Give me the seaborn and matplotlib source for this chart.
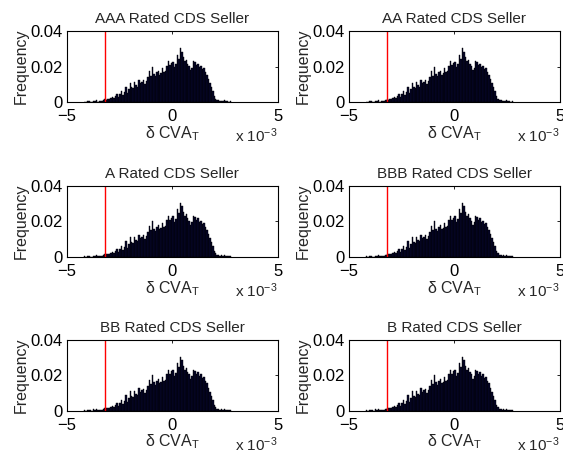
import numpy as np
import pandas as pd
import seaborn as sns
from matplotlib import pyplot as plt

# histogram of delta CVA_T (units of 1e-3), same shape for each rating
bin_start = -4.2
bin_width = 0.07
heights = [
    0.0003, 0, 0.0006, 0.0005, 0.0002, 0, 0.0008, 0.0004, 0.0010, 0.0003,
    0.0005, 0.0007, 0.0004, 0.0012, 0.0015, 0.0014, 0.0018, 0.0016, 0.0024, 0.0030,
    0.0022, 0.0034, 0.0046, 0.0030, 0.0045, 0.0060, 0.0040, 0.0055, 0.0088, 0.0050,
    0.0072, 0.0110, 0.0085, 0.0080, 0.0112, 0.0095, 0.0088, 0.0126, 0.0108, 0.0115,
    0.0122, 0.0100, 0.0118, 0.0140, 0.0173, 0.0150, 0.0200, 0.0160, 0.0148, 0.0168,
    0.0178, 0.0155, 0.0165, 0.0192, 0.0170, 0.0175, 0.0206, 0.0232, 0.0210, 0.0222,
    0.0228, 0.0198, 0.0215, 0.0268, 0.0245, 0.0305, 0.0285, 0.0255, 0.0230, 0.0240,
    0.0217, 0.0205, 0.0180, 0.0195, 0.0232, 0.0225, 0.0210, 0.0217, 0.0198, 0.0205,
    0.0187, 0.0190, 0.0170, 0.0154, 0.0130, 0.0107, 0.0085, 0.0060, 0.0035, 0.0020,
    0.0010, 0.0012, 0.0007, 0.0009, 0.0006, 0.0010, 0.0004, 0.0007, 0.0003, 0.0005,
]
ratings = ["AAA", "AA", "A", "BBB", "BB", "B"]
threshold = -3.2  # red line, x 1e-3

centers = bin_start + bin_width * (np.arange(len(heights)) + 0.5)
df = pd.DataFrame({"x": centers, "w": heights})

sns.set_theme(style="white")
plt.rcParams['font.family'] = ['Liberation Sans', 'DejaVu Sans']
plt.rcParams['mathtext.fontset'] = 'custom'
plt.rcParams['mathtext.rm'] = 'Liberation Sans'
plt.rcParams['mathtext.it'] = 'Liberation Sans'

fig = plt.figure(figsize=(5.63, 4.58), dpi=100)

lefts = [0.119, 0.620]
bottoms = [0.777, 0.439, 0.103]

for i, r in enumerate(ratings):
    ax = fig.add_axes([lefts[i % 2], bottoms[i // 2], 0.374, 0.155])
    sns.histplot(data=df, x="x", weights="w", binwidth=bin_width,
                 binrange=(bin_start, bin_start + bin_width * len(heights)), ax=ax,
                 color='#06062a', edgecolor='black', linewidth=0.3, alpha=1)
    ax.plot([threshold, threshold], [0, 0.04], color='red', linewidth=1)
    ax.set_xlim(-5, 5)
    ax.set_ylim(0, 0.04)
    ax.set_xticks([-5, 0, 5])
    ax.set_yticks([0, 0.02, 0.04])
    ax.set_yticklabels(['0', '0.02', '0.04'])
    ax.tick_params(direction='in', length=2, width=0.6, top=True, right=True,
                   labelsize=12, colors='black')
    ax.tick_params(axis='x', pad=5)
    ax.tick_params(axis='y', pad=3)
    for s in ax.spines.values():
        s.set_linewidth(0.8)
        s.set_color('black')
    ax.set_title(f"{r} Rated CDS Seller", fontsize=11, pad=6)
    ax.set_ylabel("Frequency", fontsize=11.5, labelpad=1)
    ax.set_xlabel(r"δ CVA$_\mathregular{T}$", fontsize=11.5, labelpad=0)
    ax.text(1.0, -0.34, r"x 10$^{\mathregular{-3}}$", transform=ax.transAxes,
            fontsize=11, va='top', ha='right')

plt.savefig("out.png", dpi=100)
